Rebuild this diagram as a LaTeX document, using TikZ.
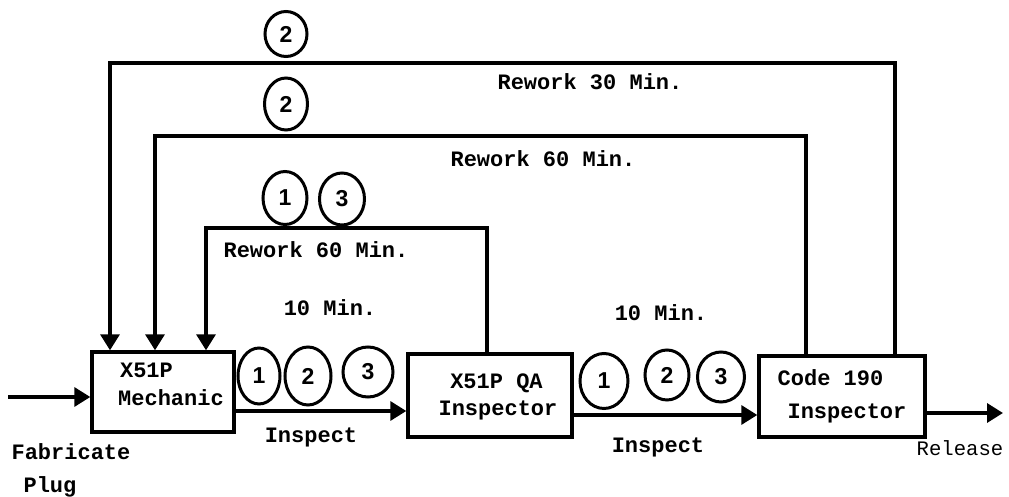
\documentclass[tikz,border=0pt]{standalone}
\usepackage{fontspec}
\usetikzlibrary{shapes.geometric,arrows.meta}
\newfontfamily\courfont{Liberation Mono}
\newfontfamily\numfont{Liberation Sans}
\tikzset{
  procbox/.style={draw, line width=1.7pt, inner sep=0pt},
  lbl/.style={inner sep=0pt, font=\courfont\bfseries\fontsize{11pt}{13pt}\selectfont},
  rel/.style={inner sep=0pt, font=\courfont\fontsize{10.3pt}{12pt}\selectfont},
  num/.style={draw, ellipse, line width=1.5pt, inner sep=0pt, font=\numfont\bfseries\fontsize{11.5pt}{13pt}\selectfont},
  arr/.style={line width=1.7pt, -{Triangle[length=8pt,width=9.5pt]}},
}
\begin{document}
\begin{tikzpicture}[x=0.5pt,y=-0.5pt]
\useasboundingbox (0,0) rectangle (1009,497);
% boxes
\node[procbox, minimum width=71pt, minimum height=40pt] (b1) at (163,392) {};
\node[procbox, minimum width=82pt, minimum height=41.5pt] (b2) at (490,395.5) {};
\node[procbox, minimum width=83pt, minimum height=40.5pt] (b3) at (842,396.5) {};
% box texts
\node[lbl] (t1a) at (146.5,370) {X51P};
\node[lbl] (t1b) at (171,398) {Mechanic};
\node[lbl] (t2a) at (496.5,383) {X51P QA};
\node[lbl] (t2b) at (498,410) {Inspector};
\node[lbl] (t3a) at (830.5,378) {Code 190};
\node[lbl] (t3b) at (847,413) {Inspector};
% coordinates
\coordinate (in) at (8,397);
\coordinate (out) at (1003,413);
\coordinate (y1) at (0,411);
\coordinate (y2) at (0,415);
\coordinate (c3) at (487,228);
\coordinate (d3) at (206,228);
\coordinate (c2) at (806,136);
\coordinate (d2) at (155,136);
\coordinate (c1) at (895,63);
\coordinate (d1) at (110,63);
% main flow
\draw[arr] (in) -- (in -| b1.west);
\draw[arr] (b1.east |- y1) -- (b2.west |- y1);
\draw[arr] (b2.east |- y2) -- (b3.west |- y2);
\draw[arr] (b3.east |- out) -- (out);
% rework loops
\draw[arr] (b2.north -| c3) -- (c3) -- (d3) -- (d3 |- b1.north);
\draw[arr] (b3.north -| c2) -- (c2) -- (d2) -- (d2 |- b1.north);
\draw[arr] (b3.north -| c1) -- (c1) -- (d1) -- (d1 |- b1.north);
% labels
\node[lbl] (r30) at (590,82) {Rework 30 Min.};
\node[lbl] (r60a) at (543,159) {Rework 60 Min.};
\node[lbl] (r60b) at (316,250) {Rework 60 Min.};
\node[lbl] (m10a) at (330,308) {10 Min.};
\node[lbl] (m10b) at (661,313) {10 Min.};
\node[lbl] (insa) at (311,437) {Inspect};
\node[lbl] (insb) at (658,447) {Inspect};
\node[lbl] (fab) at (71,452) {Fabricate};
\node[lbl] (plug) at (50,487) {Plug};
\node[rel] (rel) at (960,448) {Release};
% circled numbers
\node[num, minimum width=21pt, minimum height=22.5pt] (k1) at (286,34) {2};
\node[num, minimum width=21.5pt, minimum height=26pt] (k2) at (286,104) {2};
\node[num, minimum width=22pt, minimum height=26.5pt] (k3) at (285,198) {1};
\node[num, minimum width=22.5pt, minimum height=26pt] (k4) at (342,199) {3};
\node[num, minimum width=21pt, minimum height=28pt] (p1) at (259,376) {1};
\node[num, minimum width=23pt, minimum height=29pt] (p2) at (308,376) {2};
\node[num, minimum width=25pt, minimum height=25pt] (p3) at (368,372) {3};
\node[num, minimum width=24pt, minimum height=27.5pt] (q1) at (604,381) {1};
\node[num, minimum width=22pt, minimum height=25pt] (q2) at (667,375) {2};
\node[num, minimum width=23.5pt, minimum height=25pt] (q3) at (721,377) {3};
\end{tikzpicture}
\end{document}
